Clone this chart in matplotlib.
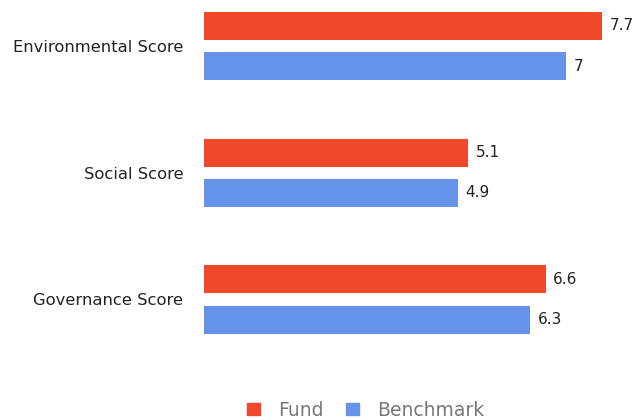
import matplotlib
import matplotlib.pyplot as plt
import numpy as np
from matplotlib.patches import Patch

matplotlib.use("Agg")

categories = ["Environmental Score", "Social Score", "Governance Score"]
fund = [7.7, 5.1, 6.6]
benchmark = [7.0, 4.9, 6.3]
series_names = ["Fund", "Benchmark"]

RED = "#F0482A"
BLUE = "#6593EA"

W, H = 637, 420
fig = plt.figure(figsize=(W / 100, H / 100), dpi=100)
# axes placed in pixel units: left edge at x=204, 0..8 spans ~414 px
ax = fig.add_axes([204 / W, 1 - 360 / H, 414 / W, 360 / H])

y = np.arange(len(categories))
h = 0.221
off = 0.158
ax.barh(y - off, fund, height=h, color=RED)
ax.barh(y + off, benchmark, height=h, color=BLUE)

for yi, v in zip(y - off, fund):
    ax.text(v + 0.15, yi, f"{v:g}", va="center", ha="left", fontsize=11, color="#222222")
for yi, v in zip(y + off, benchmark):
    ax.text(v + 0.15, yi, f"{v:g}", va="center", ha="left", fontsize=11, color="#222222")

ax.set_xlim(0, 8)
ax.set_ylim(2 + (360 - 299.5) / 126.7, -46 / 126.7)
ax.set_yticks(y)
ax.set_yticklabels(categories, fontsize=11.8, color="#222222")
ax.tick_params(axis="y", length=0, pad=15)
ax.set_xticks([])
for s in ax.spines.values():
    s.set_visible(False)

handles = [Patch(color=RED), Patch(color=BLUE)]
fig.legend(handles, series_names, loc="center", bbox_to_anchor=(366 / W, 1 - 410 / H),
           ncol=2, frameon=False, fontsize=13.5, labelcolor="#777777",
           handlelength=0.65, handleheight=0.65, handletextpad=1.0, columnspacing=1.2)

fig.savefig("out.png", dpi=100)
